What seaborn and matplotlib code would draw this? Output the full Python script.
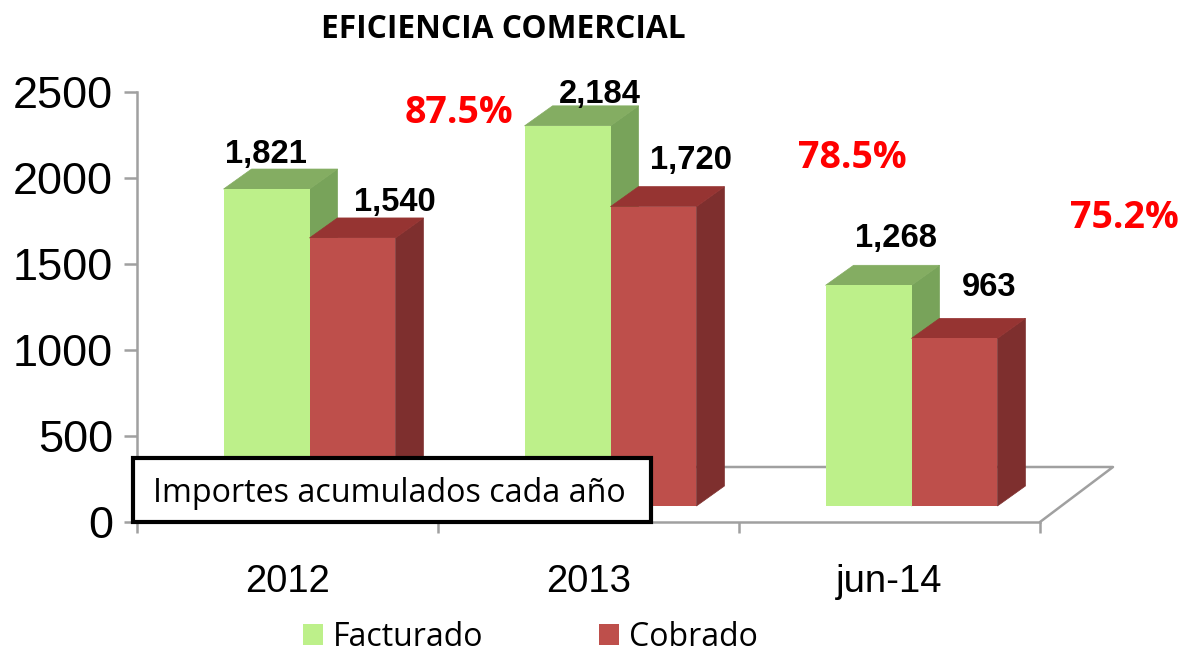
import numpy as np
import pandas as pd
import matplotlib
matplotlib.use('Agg')
import matplotlib.pyplot as plt
import seaborn as sns
from matplotlib.patches import Polygon, Rectangle
from matplotlib.lines import Line2D
from matplotlib.transforms import Affine2D, IdentityTransform

# data
periods = ['2012', '2013', 'jun-14']
facturado = [1821, 2184, 1268]
cobrado = [1540, 1720, 963]
eficiencia = ['87.5%', '78.5%', '75.2%']
y_ticks = [0, 500, 1000, 1500, 2000, 2500]

W, H = 1189, 652
GREEN, GREEN_SIDE, GREEN_TOP = '#BDF08A', '#78A35A', '#84AD62'
RED, RED_SIDE, RED_TOP = '#BE4F4B', '#7E2F2E', '#963432'
GRAY = '#A0A0A0'
DEPTH_X, DEPTH_Y = 28, 20

sns.set_style('white')
plt.rcParams['font.family'] = ['Open Sans', 'DejaVu Sans']
plt.rcParams['text.color'] = 'black'
plt.rcParams['xtick.labelcolor'] = 'black'
plt.rcParams['ytick.labelcolor'] = 'black'


def fx(x):
    return x / W


def fy(y):
    # pixel row of the picture to figure fraction
    return 1 - y / H


df = pd.DataFrame({'periodo': periods, 'Facturado': facturado, 'Cobrado': cobrado})
df = df.melt(id_vars='periodo', var_name='serie', value_name='importe')

fig = plt.figure(figsize=(W / 100, H / 100), dpi=100, facecolor='white')
ax = fig.add_axes([fx(137), fy(522), fx(1040 - 137), (522 - 92) / H])
ax.patch.set_alpha(0)

sns.barplot(data=df, x='periodo', y='importe', hue='serie', order=periods,
            hue_order=['Facturado', 'Cobrado'], palette=[GREEN, RED],
            width=0.571, saturation=1, linewidth=0, ax=ax)

ax.set_xlim(-0.5, 2.5)
ax.set_ylim(0, 2500)
ax.set_xlabel('')
ax.set_ylabel('')
ax.set_yticks(y_ticks)
ax.set_xticks([-0.5, 0.5, 1.5, 2.5])
ax.set_xticklabels([])
ax.set_xticks([0, 1, 2], labels=periods, minor=True)
ax.tick_params(axis='y', length=9.4, width=1.8, color=GRAY, left=True, pad=8,
               labelsize=32.5, labelfontfamily='Liberation Sans')
ax.tick_params(axis='x', which='major', length=8, width=1.8, color=GRAY, bottom=True)
ax.tick_params(axis='x', which='minor', length=0, pad=30, labelsize=27.5,
               labelfontfamily='Liberation Sans')
sns.despine(ax=ax)
for side in ['left', 'bottom']:
    ax.spines[side].set_color(GRAY)
    ax.spines[side].set_linewidth(1.8)

# floor of the 3D chart, behind the axes
fig.add_artist(Line2D([fx(210), fx(1113), fx(1040)], [fy(467), fy(467), fy(522)],
                      color=GRAY, lw=1.8, zorder=-1))

# bars: shift the fronts onto the floor, then add the top and side faces
fig.canvas.draw()
y0 = ax.transData.transform((0, 0))[1]
front = Affine2D().translate(0, -y0).scale(1, 1.012).translate(22, y0 + 16)
shades = [(GREEN_SIDE, GREEN_TOP), (RED_SIDE, RED_TOP)]
for i, (bars, (side_c, top_c)) in enumerate(zip(ax.containers, shades)):
    for bar in bars:
        bar.set_transform(ax.transData + front)
        bar.set_clip_on(False)
        bar.set_zorder(4 + 2 * i)
        x0, x1 = bar.get_x(), bar.get_x() + bar.get_width()
        (xl, yb), (xr, yt) = (ax.transData + front).transform([(x0, 0), (x1, bar.get_height())])
        side = [(xr, yb), (xr + DEPTH_X, yb + DEPTH_Y), (xr + DEPTH_X, yt + DEPTH_Y), (xr, yt)]
        top = [(xl, yt), (xr, yt), (xr + DEPTH_X, yt + DEPTH_Y), (xl + DEPTH_X, yt + DEPTH_Y)]
        for pts, c in [(side, side_c), (top, top_c)]:
            ax.add_patch(Polygon(pts, closed=True, facecolor=c, edgecolor=c, lw=0.5,
                                 transform=IdentityTransform(), clip_on=False, zorder=3 + 2 * i))

# value labels
label_pos = [(266, 154), (600, 94), (896, 238), (395, 202), (691, 161), (989, 287)]
for (x, y), v in zip(label_pos, facturado + cobrado):
    fig.text(fx(x), fy(y), f'{v:,}', ha='center', va='center', fontsize=23.6,
             fontweight='bold', family='Liberation Sans', color='black', zorder=12)

pct_pos = [(459, 113), (852, 158), (1124, 218)]
for (x, y), s in zip(pct_pos, eficiencia):
    fig.text(fx(x), fy(y), s, ha='center', va='center', fontsize=27,
             fontweight='bold', color='#FF0000', zorder=12)

fig.text(fx(503), fy(29), 'EFICIENCIA COMERCIAL', ha='center', va='center',
         fontsize=22.8, fontweight='bold', color='black')

# note box over the bars
fig.add_artist(Rectangle((fx(133), fy(522)), fx(651 - 133), (522 - 458) / H,
                         facecolor='white', edgecolor='black', lw=3, zorder=10,
                         transform=fig.transFigure))
fig.text(fx(153), fy(493), 'Importes acumulados cada año', ha='left', va='center',
         fontsize=23.2, color='black', zorder=12)

sns.move_legend(ax, 'center left', bbox_to_anchor=(fx(303), fy(637)),
                bbox_transform=fig.transFigure, ncol=2, title=None, frameon=False,
                fontsize=23, handlelength=0.62, handleheight=0.65, handletextpad=0.33,
                columnspacing=3.6, borderpad=0, borderaxespad=0)

fig.savefig('out.png', dpi=100, facecolor='white')
